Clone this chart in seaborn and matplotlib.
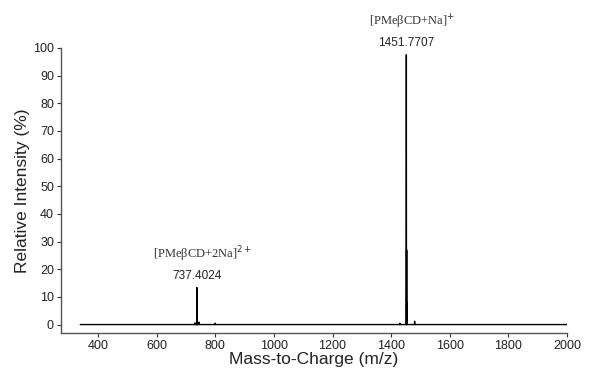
import pandas as pd
import numpy as np
import matplotlib
matplotlib.use("Agg")
import matplotlib.pyplot as plt
import seaborn as sns

# peak list (m/z, relative intensity %)
peak_mz = [730.4, 737.40, 737.90, 738.40, 745.4, 800.0,
           1429.8, 1451.77, 1452.77, 1453.77, 1480.0]
peak_int = [0.6, 13.4, 8.0, 3.0, 0.9, 0.5,
            0.5, 97.5, 27.0, 8.0, 1.2]
mz_start, mz_end = 340, 2000

labels = ["[PMe\u03b2CD+2Na]$^{2+}$", "[PMe\u03b2CD+Na]$^{+}$"]
label_mz = [737.4024, 1451.7707]
label_peak = [13.4, 97.5]

# build stick profile
xs, ys = [mz_start], [0.0]
for m, h in sorted(zip(peak_mz, peak_int)):
    xs += [m - 0.4, m, m + 0.4]
    ys += [0.0, h, 0.0]
xs.append(mz_end)
ys.append(0.0)
spec = pd.DataFrame({"mz": xs, "intensity": ys})

sns.set_style("ticks")
plt.rcParams["font.family"] = ["Liberation Sans", "DejaVu Sans"]

fig = plt.figure(figsize=(5.97, 3.74), dpi=100)
ax = fig.add_axes([0.102, 0.11, 0.848, 0.762])

sns.lineplot(data=spec, x="mz", y="intensity", sort=False, estimator=None,
             color="black", linewidth=1.0, ax=ax)

ax.set_xlim(274, 2000)
ax.set_ylim(-3, 100)
ax.set_xticks(range(400, 2001, 200))
ax.set_yticks(range(0, 101, 10))
ax.tick_params(axis="both", labelsize=9, length=3, width=0.8, pad=2,
               colors="#333333", labelcolor="#222222")
for s in ["left", "bottom"]:
    ax.spines[s].set_color("#555555")
    ax.spines[s].set_linewidth(1.0)
sns.despine(ax=ax)

ax.set_xlabel("Mass-to-Charge (m/z)", fontsize=12.5, labelpad=0, color="#222222")
ax.set_ylabel("Relative Intensity (%)", fontsize=12.5, labelpad=2, color="#222222")

for lab, m, h in zip(labels, label_mz, label_peak):
    ax.annotate(f"{m:.4f}", (m, h), xytext=(0, 4), textcoords="offset points",
                ha="center", va="bottom", fontsize=8.5, color="#222222")
    ax.annotate(lab, (m, h), xytext=(4, 17), textcoords="offset points",
                ha="center", va="bottom", fontsize=9, color="#333333",
                family="Liberation Serif", annotation_clip=False)

fig.savefig("out.png", dpi=100)
